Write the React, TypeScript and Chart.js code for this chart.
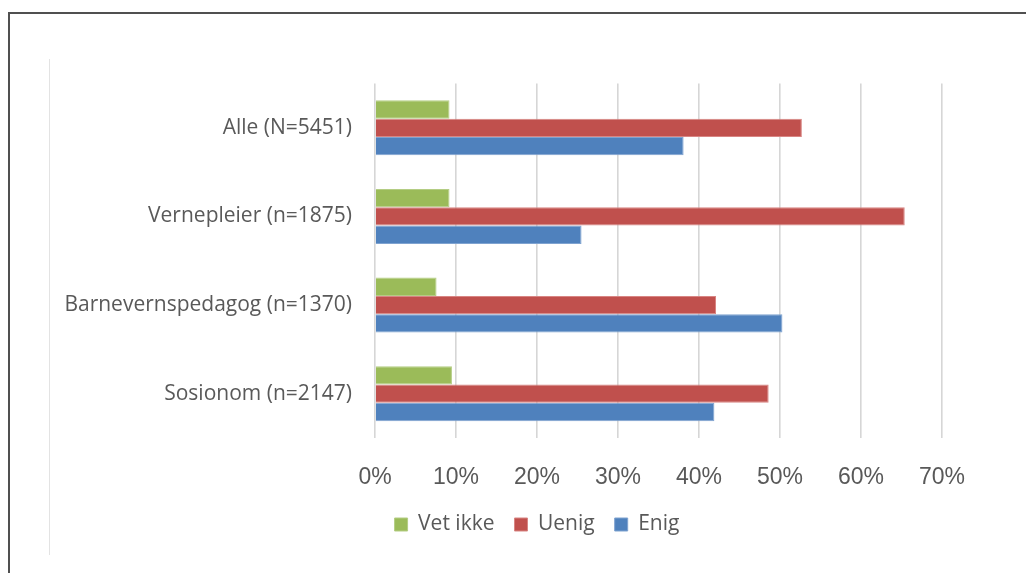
import React, { useEffect, useRef } from "react";
import { Chart, registerables } from "chart.js";

Chart.register(...registerables);

const categories = [
  "Alle (N=5451)",
  "Vernepleier (n=1875)",
  "Barnevernspedagog (n=1370)",
  "Sosionom (n=2147)",
];
const vetIkke = [9.2, 9.2, 7.6, 9.5];
const uenig = [52.7, 65.4, 42.1, 48.6];
const enig = [38.1, 25.5, 50.3, 41.9];
const seriesNames = ["Vet ikke", "Uenig", "Enig"];
const tickMax = 70;
const tickStep = 10;

const W = 1018;
const H = 565;

const framePlugin = {
  id: "frame",
  afterLayout(chart: any) {
    const lg = chart.legend;
    if (lg) {
      lg.left += 62;
      lg.right += 62;
    }
  },
  beforeDraw(chart: any) {
    const ctx = chart.ctx;
    ctx.save();
    ctx.fillStyle = "#ffffff";
    ctx.fillRect(0, 0, chart.width, chart.height);
    ctx.fillStyle = "#505050";
    ctx.fillRect(0, 4, 2, chart.height - 4);
    ctx.fillRect(0, 4, chart.width, 2);
    ctx.fillStyle = "#e3e3e3";
    ctx.fillRect(41, 51, 1, 496);
    ctx.restore();
  },
};

export default function App() {
  const ref = useRef<HTMLCanvasElement | null>(null);
  useEffect(() => {
    if (!ref.current) return;
    const font = "'Open Sans', sans-serif";
    const chart = new Chart(ref.current, {
      type: "bar",
      data: {
        labels: categories,
        datasets: [
          {
            label: seriesNames[0],
            data: vetIkke,
            backgroundColor: "#9BBB59",
            borderColor: "#b4cd84",
            borderWidth: 1,
          },
          {
            label: seriesNames[1],
            data: uenig,
            backgroundColor: "#C0504D",
            borderColor: "#d88583",
            borderWidth: 1,
          },
          {
            label: seriesNames[2],
            data: enig,
            backgroundColor: "#4F81BD",
            borderColor: "#7fa3d0",
            borderWidth: 1,
          },
        ],
      },
      options: {
        indexAxis: "y",
        animation: false,
        responsive: false,
        maintainAspectRatio: false,
        datasets: {
          bar: { categoryPercentage: 0.62, barPercentage: 1 },
        },
        layout: {
          padding: { left: 0, right: 84, top: 75.5, bottom: 28 },
        },
        scales: {
          x: {
            min: 0,
            max: tickMax,
            ticks: {
              stepSize: tickStep,
              callback: (v: any) => v + "%",
              color: "#595959",
              font: { family: "'Liberation Sans', Arial, sans-serif", size: 23 },
              padding: 26,
              maxRotation: 0,
            },
            grid: { color: "#d6d6d6", lineWidth: 1.6, drawTicks: false },
            border: { display: false },
            afterFit: (s: any) => {
              s.height = 56;
            },
          },
          y: {
            ticks: {
              color: "#595959",
              font: { family: font, size: 21 },
              padding: 23,
            },
            grid: { display: false, drawTicks: false },
            border: { display: false },
            afterFit: (s: any) => {
              s.width = 367;
            },
          },
        },
        plugins: {
          legend: {
            position: "bottom",
            labels: {
              color: "#595959",
              font: { family: font, size: 21 },
              boxWidth: 13,
              boxHeight: 13,
              padding: 20,
            },
          },
          tooltip: { enabled: false },
        },
      },
      plugins: [framePlugin],
    } as any);
    return () => chart.destroy();
  }, []);
  return (
    <div style={{ width: W, height: H }}>
      <canvas ref={ref} width={W} height={H} style={{ display: "block", width: W, height: H }} />
    </div>
  );
}
